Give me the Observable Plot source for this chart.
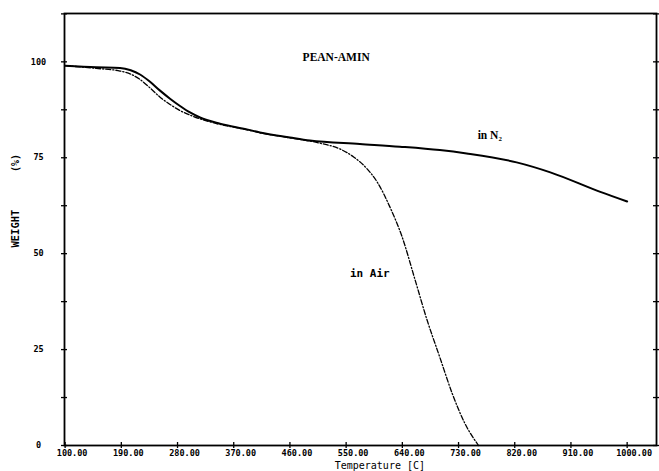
<!DOCTYPE html>
<html>
<head>
<meta charset="utf-8">
<script src="https://cdn.jsdelivr.net/npm/d3@7"></script>
<script src="https://cdn.jsdelivr.net/npm/@observablehq/plot@0.6"></script>
<style>
  html, body { margin: 0; padding: 0; background: #fff; }
  #chart svg { display: block; }
</style>
</head>
<body>
<div id="chart"></div>
<script>
// Temperature (°C) and weight (%)
const n2Temp   = [100, 150, 188, 205, 220, 236, 252, 268, 284, 300, 316, 348, 391, 412, 460, 492, 572, 636, 700, 743, 823, 877, 957, 1000];
const n2Weight = [99.0, 98.6, 98.4, 97.8, 96.7, 94.8, 92.5, 90.4, 88.5, 86.8, 85.5, 83.9, 82.4, 81.6, 80.3, 79.5, 78.6, 77.9, 77.0, 76.1, 73.8, 71.2, 66.1, 63.6];

const airTemp   = [100, 150, 188, 205, 220, 236, 252, 268, 284, 305, 340, 391, 412, 460, 508, 540, 562, 583, 600, 620, 640, 660, 680, 700, 720, 740, 762];
const airWeight = [99.0, 98.3, 97.6, 96.8, 95.4, 93.2, 90.8, 88.9, 87.3, 85.8, 84.0, 82.3, 81.5, 80.2, 78.8, 77.3, 75.2, 72.2, 68.6, 62.2, 54.2, 43.4, 32.5, 23.0, 13.5, 5.8, 0];

const xTicks = [100, 190, 280, 370, 460, 550, 640, 730, 820, 910, 1000];
const yTicks = [0, 25, 50, 75, 100];
const yMinorTicks = [0, 12.5, 25, 37.5, 50, 62.5, 75, 87.5, 100, 112.5];

const chartTitle = "PEAN-AMIN";
const xLabel = "Temperature [C]";
const yLabel = "WEIGHT";
const yUnit = "(%)";
const n2Label = "in N₂";
const airLabel = "in Air";

const n2 = n2Temp.map((t, i) => ({t, w: n2Weight[i]}));
const air = airTemp.map((t, i) => ({t, w: airWeight[i]}));

const W = 659, H = 471;
const mL = 64, mR = 3, mT = 13, mB = 26;
const plotW = W - mL - mR, plotH = H - mT - mB;

const mono = "'DejaVu Sans Mono', 'Liberation Mono', monospace";
const serif = "'Liberation Serif', 'DejaVu Serif', serif";

const chart = Plot.plot({
  width: W, height: H,
  marginLeft: mL, marginRight: mR, marginTop: mT, marginBottom: mB,
  x: {domain: [99, 1047], axis: null},
  y: {domain: [0, 112.6], axis: null},
  style: {background: "#fff", color: "#000"},
  marks: [
    Plot.frame({stroke: "#000", strokeWidth: 1.8}),
    // left & right minor ticks crossing the frame
    Plot.tickY(yMinorTicks, {y: d => d, insetLeft: -3, insetRight: plotW - 3, stroke: "#000", strokeWidth: 1.3}),
    Plot.tickY(yMinorTicks, {y: d => d, insetLeft: plotW - 3, insetRight: -3, stroke: "#000", strokeWidth: 1.3}),
    // bottom ticks
    Plot.tickX(xTicks, {x: d => d, insetTop: plotH - 3, insetBottom: -3, stroke: "#000", strokeWidth: 1.3}),
    // tick labels
    Plot.text(yTicks, {y: d => d, text: d => String(d), frameAnchor: "left", dx: -26, textAnchor: "middle",
      fontFamily: mono, fontSize: 8.5, fontWeight: "bold"}),
    Plot.text(xTicks, {x: d => d, text: d => d3.format(".2f")(d), frameAnchor: "bottom", dy: 10, dx: 7,
      fontFamily: mono, fontSize: 8.5, fontWeight: "bold"}),
    // axis labels
    Plot.text([xLabel], {x: 604, text: d => d, frameAnchor: "bottom", dy: 23,
      fontFamily: mono, fontSize: 10}),
    Plot.text([yLabel], {y: 51.6, text: d => d, frameAnchor: "left", dx: -49, rotate: -90,
      fontFamily: mono, fontSize: 10.5, fontWeight: "bold"}),
    Plot.text([yUnit], {y: 71.3, text: d => d, frameAnchor: "left", dx: -49, rotate: -90,
      fontFamily: mono, fontSize: 10, fontWeight: "bold"}),
    // curves
    Plot.line(air, {x: "t", y: "w", curve: "monotone-x", stroke: "#000", strokeWidth: 1.3, strokeDasharray: "5,2,1.2,2"}),
    Plot.line(n2, {x: "t", y: "w", curve: "monotone-x", stroke: "#000", strokeWidth: 2}),
    // annotations
    Plot.text([chartTitle], {x: 534, y: 101.3, text: d => d, fontFamily: serif, fontSize: 11.5, fontWeight: "bold"}),
    Plot.text([n2Label], {x: 780, y: 80.8, text: d => d, fontFamily: serif, fontSize: 11.5, fontWeight: "bold"}),
    Plot.text([airLabel], {x: 588, y: 44.8, text: d => d, fontFamily: mono, fontSize: 11, fontWeight: "bold"})
  ]
});
document.getElementById("chart").appendChild(chart);
</script>
</body>
</html>
